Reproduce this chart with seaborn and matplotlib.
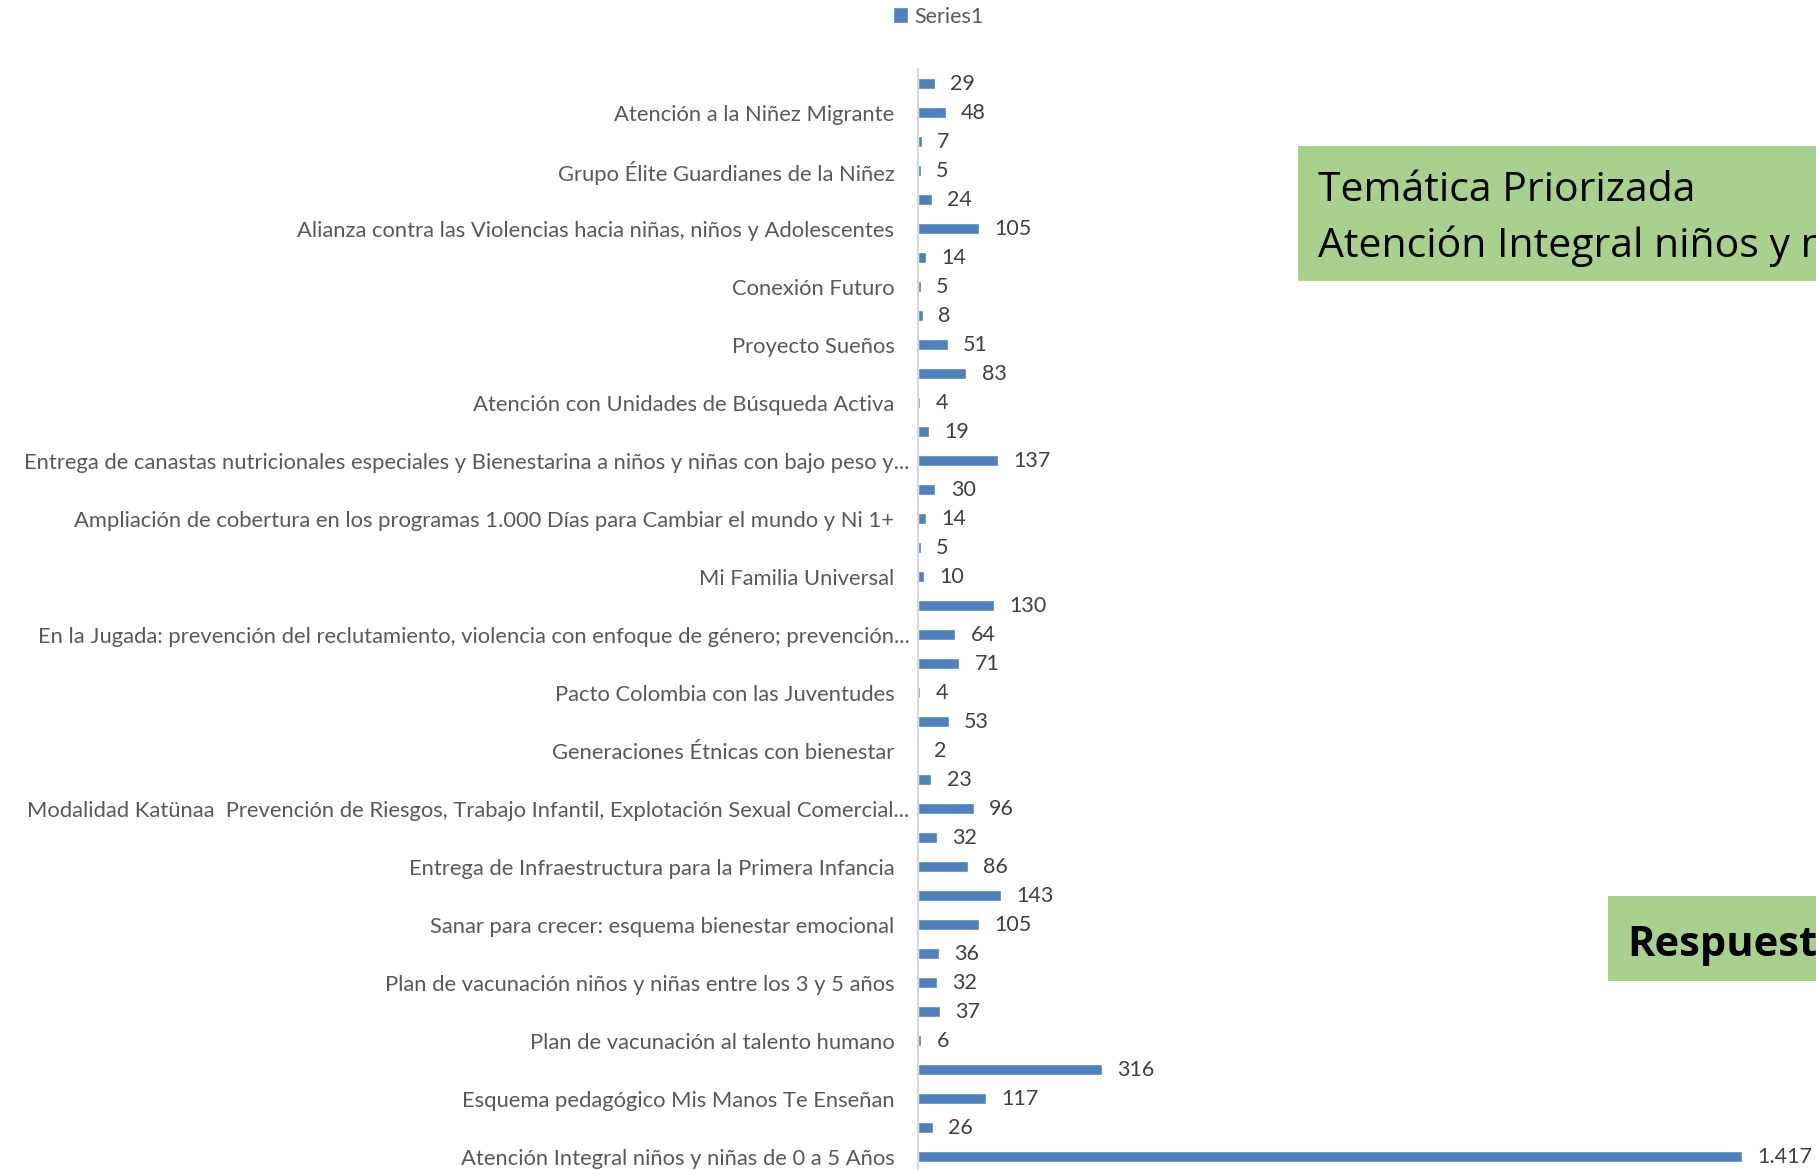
import matplotlib
matplotlib.use("Agg")
import matplotlib.pyplot as plt
from matplotlib.patches import Rectangle
from matplotlib.transforms import ScaledTranslation
import seaborn as sns
import pandas as pd

# values from top to bottom
values = [29, 48, 7, 5, 24, 105, 14, 5, 8, 51, 83, 4, 19, 137, 30, 14, 5, 10, 130,
          64, 71, 4, 53, 2, 23, 96, 32, 86, 143, 105, 36, 32, 37, 6, 316, 117, 26, 1417]

# only every second category name is shown on the axis (top to bottom)
shown_labels = [
    "Atención a la Niñez Migrante",
    "Grupo Élite Guardianes de la Niñez",
    "Alianza contra las Violencias hacia niñas, niños y Adolescentes",
    "Conexión Futuro",
    "Proyecto Sueños",
    "Atención con Unidades de Búsqueda Activa",
    "Entrega de canastas nutricionales especiales y Bienestarina a niños y niñas con bajo peso y...",
    "Ampliación de cobertura en los programas 1.000 Días para Cambiar el mundo y Ni 1+",
    "Mi Familia Universal",
    "En la Jugada: prevención del reclutamiento, violencia con enfoque de género; prevención...",
    "Pacto Colombia con las Juventudes",
    "Generaciones Étnicas con bienestar",
    "Modalidad Katünaa  Prevención de Riesgos, Trabajo Infantil, Explotación Sexual Comercial...",
    "Entrega de Infraestructura para la Primera Infancia",
    "Sanar para crecer: esquema bienestar emocional",
    "Plan de vacunación niños y niñas entre los 3 y 5 años",
    "Plan de vacunación al talento humano",
    "Esquema pedagógico Mis Manos Te Enseñan",
    "Atención Integral niños y niñas de 0 a 5 Años",
]

series_name = "Series1"
box_title = "Temática Priorizada\nAtención Integral niños y niñas de 0 a 5 Años"
box_answer = "Respuesta"

tick_labels = []
for i in range(len(values)):
    tick_labels.append(shown_labels[i // 2] if i % 2 == 1 else "")

df = pd.DataFrame({"pos": [str(i) for i in range(len(values))], "valor": values})

sns.set_style("white")
plt.rcParams["font.family"] = ["Lato", "DejaVu Sans"]

fig = plt.figure(figsize=(18.16, 11.7), dpi=100)
ax = fig.add_axes([918 / 1816, -2.5 / 1170, 1 - 918 / 1816, 1 - 66.5 / 1170])

sns.barplot(data=df, x="valor", y="pos", orient="h", color="#4F81BD",
            width=0.38, saturation=1, label=series_name, ax=ax)

ax.set_xlim(0, 1544)
ax.set_ylim(len(values) - 0.5 + 0.05, -0.5)
ax.set_yticks(range(len(values)))
ax.set_yticklabels(tick_labels, fontsize=15.8, color="#595959")
ax.tick_params(axis="y", length=0, pad=17)
ax.set_xticks([])
ax.set_xlabel("")
ax.set_ylabel("")

# truncated names sit a bit closer to the axis, like in the original
shift = ScaledTranslation(0.15, 0, fig.dpi_scale_trans)
for lab in ax.get_yticklabels():
    if lab.get_text().endswith("..."):
        lab.set_transform(lab.get_transform() + shift)

for s in ["top", "right", "bottom"]:
    ax.spines[s].set_visible(False)
ax.spines["left"].set_color("#D9D9D9")
ax.spines["left"].set_linewidth(1.5)

ax.bar_label(ax.containers[0],
             labels=[f"{v:,}".replace(",", ".") for v in values],
             padding=11, fontsize=15.5, color="#404040")

leg = ax.legend(loc="upper center", bbox_to_anchor=(938 / 1816, 1.011),
                bbox_transform=fig.transFigure, frameon=False, fontsize=15.5,
                handlelength=0.7, handleheight=0.7, handletextpad=0.3)
for t in leg.get_texts():
    t.set_color("#595959")

# green text boxes (cut by the right edge as in the original slide)
fig.add_artist(Rectangle((1298 / 1816, 1 - 281 / 1170), 0.4, 135 / 1170,
                         transform=fig.transFigure, facecolor="#A9D18E",
                         edgecolor="none"))
fig.text(1318 / 1816, 1 - 219 / 1170, box_title, fontsize=29.5, color="black",
         va="center", ha="left", linespacing=1.45, family="Open Sans")

fig.add_artist(Rectangle((1608 / 1816, 1 - 981 / 1170), 0.2, 85 / 1170,
                         transform=fig.transFigure, facecolor="#A9D18E",
                         edgecolor="none"))
fig.text(1627 / 1816, 1 - 946 / 1170, box_answer, fontsize=30, color="black",
         va="center", ha="left", fontweight="bold", family="Open Sans")

fig.savefig("out.png", dpi=100)
